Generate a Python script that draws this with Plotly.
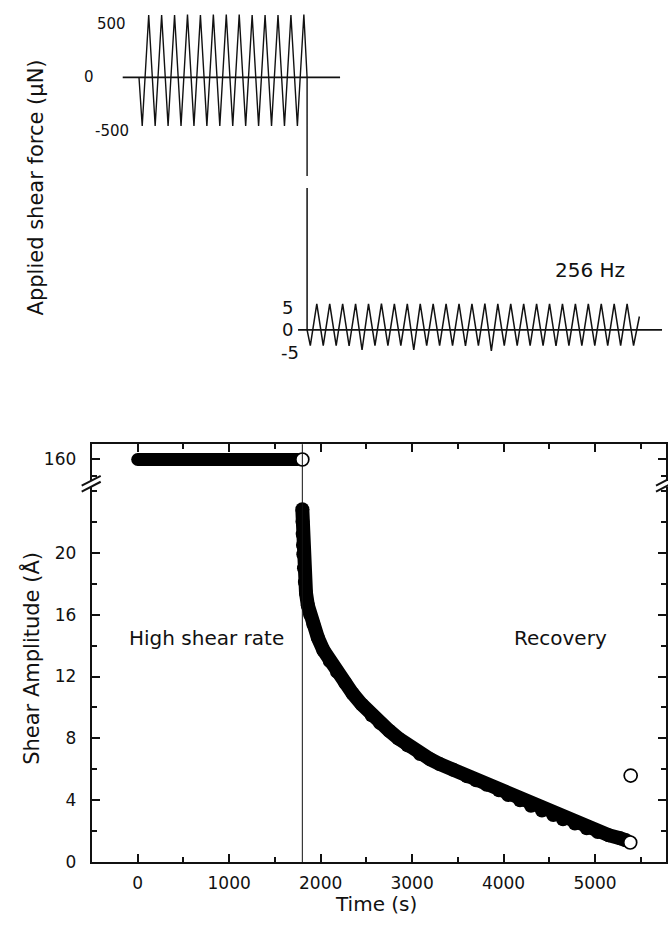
import plotly.graph_objects as go

W, H = 668, 927

# ---------------- shear amplitude recovery (lower panel) ----------------
switch_time = 1800  # s, high shear rate switched off

high_time = [0, 250, 500, 750, 1000, 1250, 1500, 1750]
high_amp = [160, 160, 160, 160, 160, 160, 160, 160]
switch_amp = [160]

rec_time = [1800, 1802, 1804, 1807, 1811, 1818, 1828, 1840, 1860, 1885, 1920,
            1970, 2030, 2100, 2180, 2267, 2350, 2450, 2558, 2650, 2750, 2850,
            2950, 3087, 3200, 3300, 3451, 3600, 3700, 3816, 3950, 4050, 4180,
            4300, 4420, 4544, 4650, 4780, 4909, 5030, 5150, 5273, 5340]
rec_amp = [22.8, 22.0, 21.2, 20.5, 19.9, 19.0, 18.1, 17.4, 16.6, 16.0, 15.4,
           14.5, 13.7, 13.0, 12.3, 11.6, 10.9, 10.2, 9.5, 9.0, 8.5, 8.0,
           7.55, 7.0, 6.65, 6.35, 5.97, 5.55, 5.3, 5.01, 4.65, 4.35, 4.0,
           3.65, 3.35, 3.05, 2.78, 2.5, 2.2, 1.95, 1.75, 1.56, 1.42]
last_time = [5385, 5390]
last_amp = [1.28, 5.6]

amp_ticks = [0, 4, 8, 12, 16, 20]
high_ticks = [160]
time_ticks = [0, 1000, 2000, 3000, 4000, 5000]

# ---------------- applied shear force schematic (upper panel) ----------------
# turning points of the drive signal, one list entry per half cycle
high_force_troughs = [-455, -455, -455, -455, -455, -455, -455, -455, -455,
                      -455, -455, -455, -455]
high_force_peaks = [585, 585, 585, 590, 585, 590, 590, 590, 585, 585, 585,
                    585, 590]
low_force_troughs = [-3.5, -3.5, -3.5, -3.6, -4.5, -3.5, -3.5, -3.5, -4.5,
                     -3.5, -3.5, -3.5, -3.6, -3.5, -4.7, -3.5, -3.5, -3.5,
                     -3.5, -3.6, -3.5, -3.5, -3.5, -3.5, -3.5, -3.5]
low_force_peaks = [5.8, 5.8, 5.8, 5.8, 5.8, 5.9, 5.8, 5.8, 5.8, 5.8, 5.8,
                   5.8, 5.8, 5.9, 5.8, 5.8, 5.8, 5.8, 5.8, 5.8, 5.8, 5.8,
                   5.8, 5.8, 5.8]
low_force_end = 3.0
high_force_labels = [500, 0, -500]
low_force_labels = [5, 0, -5]
freq_label = "256 Hz"

n_high = len(high_force_peaks)          # cycles at large force
n_low = len(low_force_peaks)            # cycles at small force


def px_x(px):
    return px / W


def px_y(py):
    return 1 - py / H


# drive signal in units of oscillation cycles
hi_c, hi_f = [0.0], [0.0]
for k in range(n_high):
    hi_c += [k + 0.25, k + 0.75]
    hi_f += [high_force_troughs[k], high_force_peaks[k]]
hi_c.append(float(n_high))
hi_f.append(0.0)

lo_c, lo_f = [float(n_high)], [0.0]
for k in range(n_low):
    lo_c += [n_high + k + 0.25, n_high + k + 0.75]
    lo_f += [low_force_troughs[k], low_force_peaks[k]]
lo_c += [n_high + n_low + 0.25, n_high + n_low + 0.7]
lo_f += [low_force_troughs[n_low], low_force_end]

# axis geometry of the schematic (pixel based)
cyc_px = 12.93
cyc0_px = 139.0
cyc_range = [-cyc0_px / cyc_px, (W - cyc0_px) / cyc_px]
hi_zero_px, hi_scale = 78.3, 0.108      # px per uN
hi_top, hi_bot = 0.0, 178.0
hi_range = [-(hi_bot - hi_zero_px) / hi_scale, (hi_zero_px - hi_top) / hi_scale]
lo_zero_px, lo_scale = 333.5, 4.52
lo_top, lo_bot = 190.0, 365.0
lo_range = [-(lo_bot - lo_zero_px) / lo_scale, (lo_zero_px - lo_top) / lo_scale]

fig = go.Figure()

ink = "#111111"

# zero baselines
fig.add_trace(go.Scatter(x=[-1.26, 15.55], y=[0, 0], mode="lines",
                         line=dict(color=ink, width=1.7),
                         xaxis="x3", yaxis="y3", showlegend=False, hoverinfo="skip"))
fig.add_trace(go.Scatter(x=[12.3, 40.45], y=[0, 0], mode="lines",
                         line=dict(color=ink, width=1.7),
                         xaxis="x3", yaxis="y4", showlegend=False, hoverinfo="skip"))
# drive signals
fig.add_trace(go.Scatter(x=hi_c + [float(n_high)], y=hi_f + [hi_range[0]], mode="lines",
                         line=dict(color=ink, width=1.4),
                         xaxis="x3", yaxis="y3", showlegend=False, hoverinfo="skip"))
fig.add_trace(go.Scatter(x=[float(n_high)] + lo_c, y=[lo_range[1]] + lo_f, mode="lines",
                         line=dict(color=ink, width=1.5),
                         xaxis="x3", yaxis="y4", showlegend=False, hoverinfo="skip"))

# ---- lower panel data ----
fig.add_trace(go.Scatter(x=high_time, y=high_amp, mode="lines+markers",
                         line=dict(color="black", width=13),
                         marker=dict(size=13, color="black"),
                         xaxis="x2", yaxis="y2", showlegend=False))
fig.add_trace(go.Scatter(x=[switch_time], y=switch_amp, mode="markers",
                         marker=dict(size=13, color="white",
                                     line=dict(color="black", width=1.7)),
                         xaxis="x2", yaxis="y2", showlegend=False))
fig.add_trace(go.Scatter(x=rec_time, y=rec_amp, mode="lines+markers",
                         line=dict(color="black", width=14),
                         marker=dict(size=14, color="black"),
                         xaxis="x", yaxis="y", showlegend=False))
fig.add_trace(go.Scatter(x=last_time, y=last_amp, mode="markers",
                         marker=dict(size=13, color="white",
                                     line=dict(color="black", width=1.7)),
                         xaxis="x", yaxis="y", showlegend=False))

# geometry of the lower panel
left_px, right_px = 91.7, 666.0
bottom_px, low_top_px = 871.7, 492.0
up_bot_px, up_top_px = 486.0, 449.0
t0_px, t_scale = 137.7, 0.09146        # px per second
a_scale = 15.65                          # px per Angstrom
x_range = [(left_px - t0_px) / t_scale, (right_px - t0_px) / t_scale]
y_range = [0, (bottom_px - low_top_px) / a_scale]
up_scale = 1.7
y2_range = [160 - (up_bot_px - 464.5) / up_scale, 160 + (464.5 - up_top_px) / up_scale]

tick_font = dict(family="DejaVu Sans", size=17, color=ink)
xdom = [px_x(left_px), px_x(right_px)]

common_x = dict(range=x_range, domain=xdom, showline=True, linecolor=ink, linewidth=2,
                ticks="inside", ticklen=8, tickwidth=1.5, tickcolor=ink,
                tickvals=time_ticks, showgrid=False, zeroline=False,
                minor=dict(dtick=500, tick0=0, ticklen=5, tickwidth=1.5,
                           tickcolor=ink, ticks="inside", showgrid=False))

fig.update_layout(
    width=W, height=H, margin=dict(l=0, r=0, t=0, b=0),
    paper_bgcolor="white", plot_bgcolor="white",
    xaxis=dict(**common_x, anchor="y", tickfont=tick_font, ticklabelstandoff=4),
    xaxis2=dict(**common_x, anchor="y2", side="top", matches="x",
                showticklabels=False),
    yaxis=dict(range=y_range, domain=[px_y(bottom_px), px_y(low_top_px)],
               anchor="x", showline=True, mirror="ticks", linecolor=ink, linewidth=2,
               ticks="inside", ticklen=8, tickwidth=1.5, tickcolor=ink,
               tickvals=amp_ticks, tickfont=tick_font, ticklabelstandoff=10,
               showgrid=False, zeroline=False,
               minor=dict(dtick=2, tick0=0, ticklen=5, tickwidth=1.5,
                          tickcolor=ink, ticks="inside", showgrid=False)),
    yaxis2=dict(range=y2_range, domain=[px_y(up_bot_px), px_y(up_top_px)],
                anchor="x2", showline=True, mirror="ticks", linecolor=ink, linewidth=2,
                ticks="inside", ticklen=8, tickwidth=1.5, tickcolor=ink,
                tickvals=high_ticks, tickfont=tick_font, ticklabelstandoff=10,
                showgrid=False, zeroline=False,
                minor=dict(tickvals=[150], ticklen=5, tickwidth=1.5,
                           tickcolor=ink, ticks="inside", showgrid=False)),
    xaxis3=dict(range=cyc_range, domain=[0, 1], anchor="y3", visible=False),
    yaxis3=dict(range=hi_range, domain=[px_y(hi_bot), px_y(hi_top)],
                anchor="x3", visible=False),
    yaxis4=dict(range=lo_range, domain=[px_y(lo_bot), px_y(lo_top)],
                anchor="x3", visible=False),
)

# switch-off time marker across the amplitude panel
fig.add_shape(type="line", xref="x", yref="paper", x0=switch_time, x1=switch_time,
              y0=px_y(bottom_px), y1=px_y(up_top_px), line=dict(color=ink, width=1))

# axis break marks on both sides
for xc in (left_px, right_px):
    for dy in (0, -6):
        fig.add_shape(type="line", xref="paper", yref="paper",
                      x0=px_x(xc - 10), x1=px_x(xc + 9),
                      y0=px_y(497 + dy), y1=px_y(487 + dy),
                      line=dict(color=ink, width=2))

ann = []
# schematic tick labels
for val, cx in zip(high_force_labels, (111.5, 89.0, 112.0)):
    ann.append(dict(x=px_x(cx), y=val, xref="paper", yref="y3", text=str(val),
                    showarrow=False, xanchor="center", yanchor="middle",
                    font=dict(family="DejaVu Sans", size=15, color=ink)))
for val, cx in zip(low_force_labels, (287.0, 287.5, 289.5)):
    ann.append(dict(x=px_x(cx), y=val, xref="paper", yref="y4", text=str(val),
                    showarrow=False, xanchor="center", yanchor="middle",
                    font=dict(family="DejaVu Sans", size=18, color=ink)))
ann.append(dict(x=px_x(590), y=px_y(272.5), xref="paper", yref="paper", text=freq_label,
                showarrow=False, xanchor="center", yanchor="middle",
                font=dict(family="DejaVu Sans", size=20, color=ink)))
ann.append(dict(x=px_x(35.5), y=px_y(190), xref="paper", yref="paper",
                text="Applied shear force (µN)", textangle=-90,
                showarrow=False, xanchor="center", yanchor="middle",
                font=dict(family="DejaVu Sans", size=21, color=ink)))
# lower panel titles and labels
ann.append(dict(x=px_x(31), y=px_y(666), xref="paper", yref="paper",
                text="Shear Amplitude (Å)", textangle=-90,
                showarrow=False, xanchor="center", yanchor="middle",
                font=dict(family="DejaVu Sans", size=21, color=ink)))
ann.append(dict(x=px_x(376), y=0, xref="paper", yref="paper",
                text="Time (s)", showarrow=False, xanchor="center", yanchor="bottom",
                borderpad=0, font=dict(family="DejaVu Sans", size=20, color=ink)))
ann.append(dict(x=px_x(207), y=px_y(645), xref="paper", yref="paper",
                text="High shear rate", showarrow=False, xanchor="center",
                yanchor="middle", font=dict(family="DejaVu Sans", size=20, color=ink)))
ann.append(dict(x=px_x(560), y=px_y(645), xref="paper", yref="paper",
                text="Recovery", showarrow=False, xanchor="center",
                yanchor="middle", font=dict(family="DejaVu Sans", size=20, color=ink)))
fig.update_layout(annotations=ann)

fig.write_html("out.html")
